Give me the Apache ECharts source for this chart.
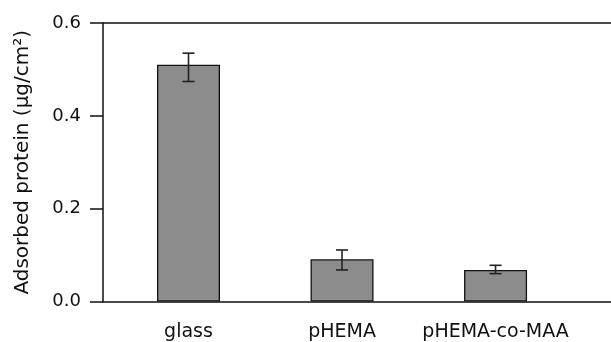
<!DOCTYPE html>
<html><head><meta charset="utf-8">
<script src="https://cdn.jsdelivr.net/npm/echarts@6/dist/echarts.min.js"></script>
<style>html,body{margin:0;padding:0;background:#fff}#c{width:611px;height:342px}</style>
</head><body><div id="c"></div>
<script>
const categories = ['glass', 'pHEMA', 'pHEMA-co-MAA'];
const positions = [1, 2, 3];
const values = [0.51, 0.091, 0.068];
const errLow = [0.474, 0.068, 0.060];
const errHigh = [0.535, 0.111, 0.078];
const yTicks = [0, 0.2, 0.4, 0.6];

const chart = echarts.init(document.getElementById('c'), null, {renderer: 'canvas'});
const font = 'DejaVu Sans, sans-serif';
chart.setOption({
  animation: false,
  backgroundColor: '#fff',
  grid: {left: 103, right: 0, top: 23, bottom: 40.5},
  xAxis: [{
    type: 'value', min: 0.443, max: 3.752, position: 'bottom',
    axisLine: {show: true, onZero: false, lineStyle: {color: '#111', width: 1.5}},
    axisTick: {show: false},
    splitLine: {show: false},
    axisLabel: {
      customValues: positions, margin: 21, fontSize: 19, color: '#111', fontFamily: font,
      formatter: v => categories[positions.indexOf(Math.round(v))] || ''
    }
  }, {
    type: 'value', min: 0.443, max: 3.752, position: 'top',
    axisLine: {show: true, onZero: false, lineStyle: {color: '#111', width: 1.5}},
    axisTick: {show: false}, axisLabel: {show: false}, splitLine: {show: false}
  }],
  yAxis: {
    type: 'value', min: 0, max: 0.6, interval: 0.2,
    name: 'Adsorbed protein (μg/cm²)', nameLocation: 'middle', nameGap: 70,
    nameTextStyle: {fontSize: 20, color: '#111', fontFamily: font},
    axisLine: {show: true, lineStyle: {color: '#111', width: 1.5}},
    axisTick: {show: true, inside: false, length: 13, lineStyle: {color: '#111', width: 1.5}},
    splitLine: {show: false},
    axisLabel: {customValues: yTicks, margin: 22, fontSize: 18, color: '#111', fontFamily: font,
      formatter: v => v.toFixed(1)}
  },
  series: [{
    type: 'bar', barWidth: 63,
    data: positions.map((p, i) => [p, values[i]]),
    itemStyle: {color: '#8c8c8c', borderColor: '#111', borderWidth: 1.3}
  }, {
    type: 'custom',
    data: positions.map((p, i) => [p, errLow[i], errHigh[i]]),
    renderItem: function (params, api) {
      const x = api.value(0);
      const lo = api.coord([x, api.value(1)]);
      const hi = api.coord([x, api.value(2)]);
      const w = 6;
      const style = {stroke: '#222', lineWidth: 1.6};
      return {type: 'group', children: [
        {type: 'line', shape: {x1: lo[0], y1: lo[1], x2: hi[0], y2: hi[1]}, style},
        {type: 'line', shape: {x1: lo[0] - w, y1: lo[1], x2: lo[0] + w, y2: lo[1]}, style},
        {type: 'line', shape: {x1: hi[0] - w, y1: hi[1], x2: hi[0] + w, y2: hi[1]}, style}
      ]};
    },
    z: 10
  }]
});
</script></body></html>
